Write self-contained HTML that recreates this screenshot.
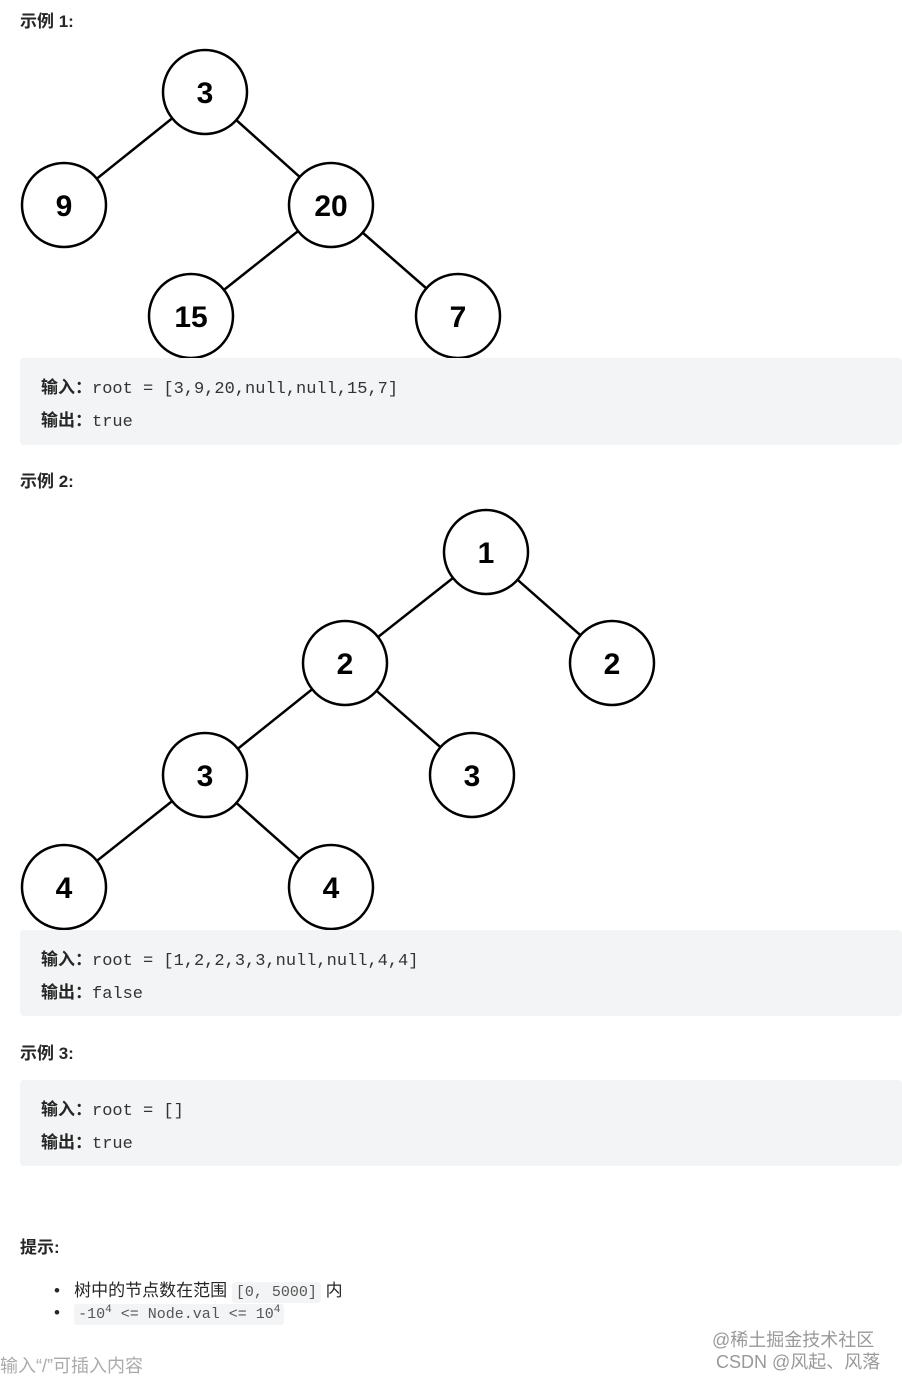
<!DOCTYPE html>
<html><head><meta charset="utf-8"><style>
body{margin:0;width:902px;height:1377px;background:#fff;position:relative;overflow:hidden;font-family:"Liberation Sans","Noto Sans CJK SC",sans-serif;color:#262626}
.a{position:absolute;white-space:nowrap}
.h{font-size:17px;font-weight:bold;left:20px}
.box{position:absolute;left:20px;width:882px;background:#f3f4f5;border-radius:4px}
.ln{position:absolute;left:21px;font-size:17px;line-height:29px}
.ln b{font-family:"Noto Sans CJK SC",sans-serif}
.m{font-family:"Liberation Mono",monospace;font-size:17px;color:#333}
.code{background:#f3f4f5;border-radius:3px;padding:2px 4px;font-family:"Liberation Mono","Noto Serif CJK SC",monospace;color:#555;font-size:15px}
</style></head><body>
<div class="a h" style="top:7px">示例 1:</div>
<svg class="a" style="left:0;top:0" width="902" height="940">
<g stroke="#000" stroke-width="2.5" fill="none">
<line x1="205" y1="92" x2="64" y2="205"/><line x1="205" y1="92" x2="331" y2="205"/>
<line x1="331" y1="205" x2="191" y2="316"/><line x1="331" y1="205" x2="458" y2="316"/>
<line x1="486" y1="552" x2="345" y2="663"/><line x1="486" y1="552" x2="612" y2="663"/>
<line x1="345" y1="663" x2="205" y2="775"/><line x1="345" y1="663" x2="472" y2="775"/>
<line x1="205" y1="775" x2="64" y2="887"/><line x1="205" y1="775" x2="331" y2="887"/>
</g>
<g stroke="#000" stroke-width="2.5" fill="#fff">
<circle cx="205" cy="92" r="42"/><circle cx="64" cy="205" r="42"/><circle cx="331" cy="205" r="42"/><circle cx="191" cy="316" r="42"/><circle cx="458" cy="316" r="42"/>
<circle cx="486" cy="552" r="42"/><circle cx="345" cy="663" r="42"/><circle cx="612" cy="663" r="42"/><circle cx="205" cy="775" r="42"/><circle cx="472" cy="775" r="42"/><circle cx="64" cy="887" r="42"/><circle cx="331" cy="887" r="42"/>
</g>
<g font-family="Liberation Sans,sans-serif" font-weight="bold" font-size="30" text-anchor="middle" fill="#000">
<text x="205" y="103">3</text><text x="64" y="216">9</text><text x="331" y="216">20</text><text x="191" y="327">15</text><text x="458" y="327">7</text>
<text x="486" y="563">1</text><text x="345" y="674">2</text><text x="612" y="674">2</text><text x="205" y="786">3</text><text x="472" y="786">3</text><text x="64" y="898">4</text><text x="331" y="898">4</text>
</g></svg>
<div class="box" style="top:358px;height:87px"><div class="ln" style="top:13px"><b>输入：</b><span class="m">root = [3,9,20,null,null,15,7]</span><br><b>输出：</b><span class="m">true</span></div></div>
<div class="a h" style="top:467px">示例 2:</div>
<div class="box" style="top:930px;height:86px"><div class="ln" style="top:13px"><b>输入：</b><span class="m">root = [1,2,2,3,3,null,null,4,4]</span><br><b>输出：</b><span class="m">false</span></div></div>
<div class="a h" style="top:1039px">示例 3:</div>
<div class="box" style="top:1080px;height:86px"><div class="ln" style="top:13px"><b>输入：</b><span class="m">root = []</span><br><b>输出：</b><span class="m">true</span></div></div>
<div class="a h" style="top:1233px">提示:</div>
<div class="a" style="left:54px;top:1276px;font-size:17px">•&nbsp;&nbsp;&nbsp;树中的节点数在范围 <span class="code">[0, 5000]</span> 内</div>
<div class="a" style="left:54px;top:1303px;font-size:17px">•&nbsp;&nbsp;&nbsp;<span class="code">-10<sup style="font-size:11px">4</sup> &lt;= Node.val &lt;= 10<sup style="font-size:11px">4</sup></span></div>
<div class="a" style="left:712px;top:1326px;font-size:18px;color:#999">@稀土掘金技术社区</div>
<div class="a" style="left:716px;top:1348px;font-size:18px;color:#999">CSDN @风起、风落</div>
<div class="a" style="left:0;top:1352px;font-size:18px;color:#aaa">输入“/”可插入内容</div>
</body></html>
